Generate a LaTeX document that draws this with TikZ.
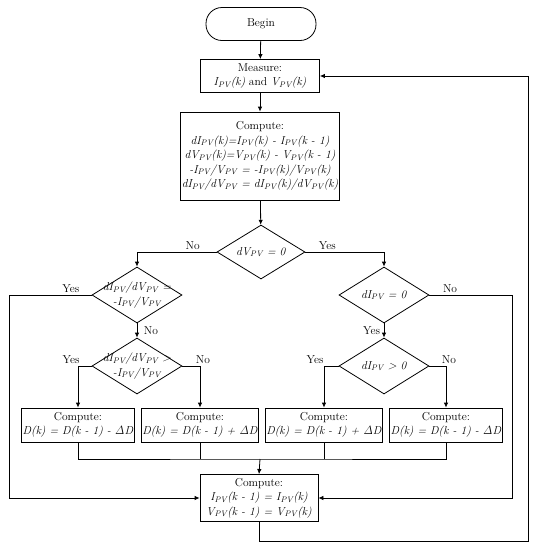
\documentclass[tikz,border=0pt]{standalone}
\usetikzlibrary{arrows.meta,shapes.geometric,positioning}
\tikzset{box/.style={draw,line width=0.8pt,align=center,inner sep=1pt},
term/.style={draw,line width=0.8pt,rounded corners=16pt,minimum width=110pt,minimum height=33pt},
dec/.style={draw,line width=0.8pt,diamond,minimum width=90pt,minimum height=56pt,inner sep=0pt},
dtxt/.style={align=center,inner sep=0pt},
lab/.style={inner sep=1.5pt},
ln/.style={line width=0.8pt},
arr/.style={ln,-{Latex[length=5pt,width=4.5pt]}}}
\newcommand{\pv}{\textsubscript{PV}}
\begin{document}
\begin{tikzpicture}[x=1pt,y=-1pt,font=\fontsize{11.5}{14.5}\selectfont]
\useasboundingbox[fill=white](0,0)rectangle(536,550);
\node[term](begin)at(261,24){Begin};
\node[box,minimum width=119pt,minimum height=33pt](meas)at(260,76){Measure:\\\textit{I\pv(k)} and \textit{V\pv(k)}};
\node[box,minimum width=148pt,minimum height=88pt](calc)at(260,156){Compute:\\
\textit{dI\pv(k)=I\pv(k) - I\pv(k - 1)}\\\textit{dV\pv(k)=V\pv(k) - V\pv(k - 1)}\\
\textit{-I\pv/V\pv{} = -I\pv(k)/V\pv(k)}\\\textit{dI\pv/dV\pv{} = dI\pv(k)/dV\pv(k)}};
% decisions
\node[dec,minimum width=88pt,minimum height=54pt](dv)at(261,252){};
\node[dtxt](dvt)at(dv){\textit{dV\pv{} = 0}};
\node[dec](eq)at(137,295){};
\node[dtxt](eqt)at(eq){\textit{dI\pv/dV\pv{} =}\\\textit{-I\pv/V\pv}};
\node[dec](gt)at(137,366){};
\node[dtxt](gtt)at(gt){\textit{dI\pv/dV\pv{} >}\\\textit{-I\pv/V\pv}};
\node[dec](di)at(384,295){};
\node[dtxt](dit)at(di){\textit{dI\pv{} = 0}};
\node[dec](dp)at(384,366){};
\node[dtxt](dpt)at(dp){\textit{dI\pv{} > 0}};
% duty updates
\node[box,minimum width=110pt,minimum height=34pt](dec1)at(78,425){Compute:\\\textit{D(k) = D(k - 1) - $\mathit{\Delta}$D}};
\node[box,minimum width=108pt,minimum height=34pt](inc1)at(200,425){Compute:\\\textit{D(k) = D(k - 1) + $\mathit{\Delta}$D}};
\node[box,minimum width=108pt,minimum height=34pt](inc2)at(324,425){Compute:\\\textit{D(k) = D(k - 1) + $\mathit{\Delta}$D}};
\node[box,minimum width=108pt,minimum height=34pt](dec2)at(446,425){Compute:\\\textit{D(k) = D(k - 1) - $\mathit{\Delta}$D}};
\node[box,minimum width=118pt,minimum height=47pt](upd)at(259,498){Compute:\\\textit{I\pv(k - 1) = I\pv(k)}\\\textit{V\pv(k - 1) = V\pv(k)}};
\coordinate(j)at(260,459);
\coordinate(L)at(9,295);
\coordinate(R)at(512,295);
\coordinate(B)at(528,541);
% connectors
\draw[arr](begin)--(meas);
\draw[arr](meas)--(calc);
\draw[arr](calc)--(dv);
\draw[arr](dv.west)-|node[lab,pos=0.15,above]{No}(eq.north);
\draw[arr](dv.east)-|node[lab,pos=0.14,above]{Yes}(di.north);
\draw[arr](eq)--node[lab,right,xshift=5pt]{No}(gt);
\draw[arr](di)--node[lab,left,xshift=-2pt]{Yes}(dp);
\draw[arr](eq.west)--node[lab,pos=0.25,above]{Yes}(L)|-(upd.west);
\draw[arr](di.east)--node[lab,pos=0.25,above]{No}(R)|-(upd.east);
\draw[arr](gt.west)-|node[lab,pos=0.5,above,xshift=-7pt]{Yes}(dec1.north);
\draw[arr](gt.east)-|node[lab,pos=0.5,above,xshift=3pt]{No}(inc1.north);
\draw[arr](dp.west)-|node[lab,pos=0.5,above,xshift=-9pt]{Yes}(inc2.north);
\draw[arr](dp.east)-|node[lab,pos=0.5,above,xshift=3pt]{No}(dec2.north);
\draw[ln](dec1.south)|-(j)-|(dec2.south);
\draw[ln](inc1.south)--(inc1.south|-j);
\draw[ln](inc2.south)--(inc2.south|-j);
\draw[arr](j)--(upd.north);
\draw[arr](upd.south)|-(B)|-(meas.east);
\end{tikzpicture}
\end{document}
